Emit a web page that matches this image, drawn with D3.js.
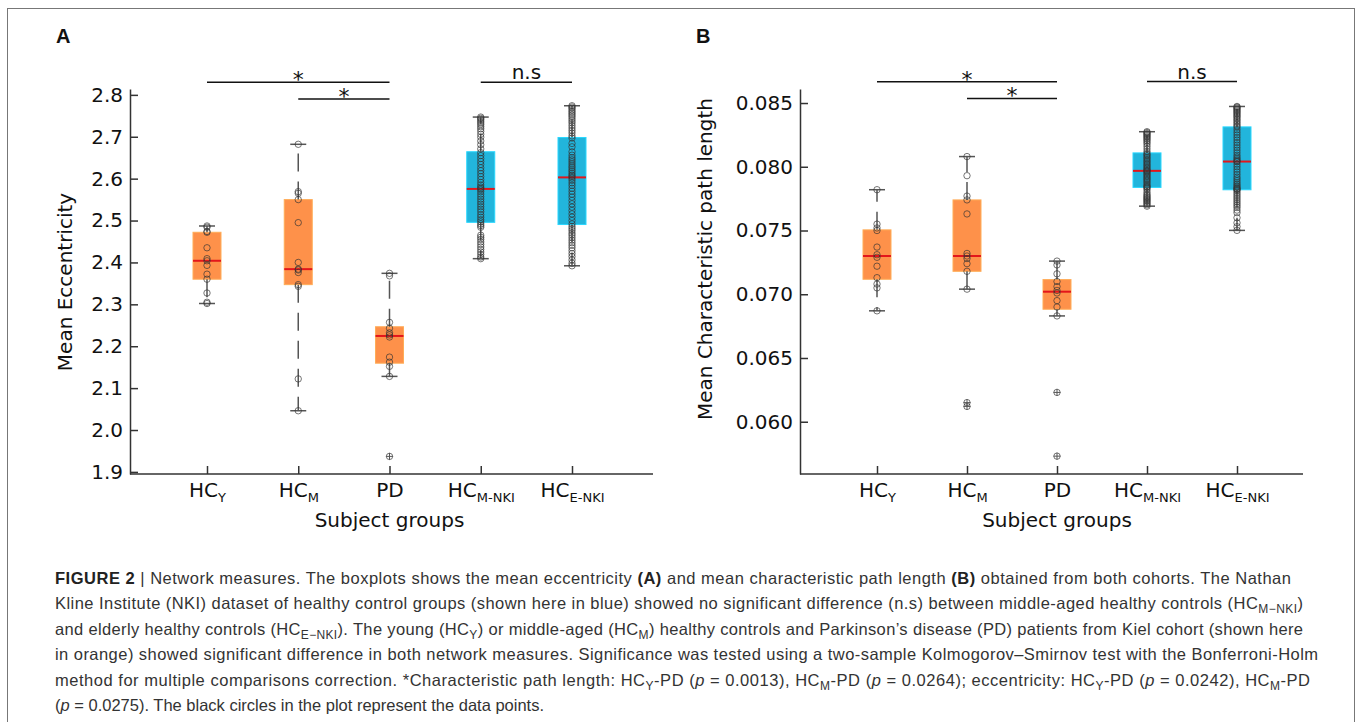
<!DOCTYPE html>
<html>
<head>
    <title>Figure 2</title>
    <meta charset="utf-8" />
    <script type="text/javascript" src="https://cdn.jsdelivr.net/npm/d3@7"></script>
    <style>
        body { margin: 0; background: #fff; }
        svg text { font-family: "DejaVu Sans", sans-serif; fill: #111; }
        .axis path, .axis line { stroke: #333; stroke-width: 1.5; }
        .axis text { font-size: 20px; font-family: "DejaVu Sans", sans-serif; fill: #111; }
        .caption text, .caption tspan { font-family: "Liberation Sans", Arial, sans-serif; }
    </style>
</head>
<body>
    <script type="text/javascript">

        // groups on the x axis
        var groups = ["HCY", "HCM", "PD", "HCMNKI", "HCENKI"];
        var groupMain = ["HC", "HC", "PD", "HC", "HC"];
        var groupSub = ["Y", "M", "", "M-NKI", "E-NKI"];
        var groupCohort = ["kiel", "kiel", "kiel", "nki", "nki"];

        // A: mean eccentricity, one array per group
        var eccHCY = [2.487, 2.484, 2.474, 2.472, 2.435, 2.409, 2.404, 2.393, 2.372, 2.360, 2.327, 2.305, 2.302];
        var eccHCM = [2.682, 2.569, 2.565, 2.550, 2.495, 2.400, 2.384, 2.382, 2.376, 2.347, 2.343, 2.122, 2.046];
        var eccPD = [2.374, 2.368, 2.257, 2.243, 2.232, 2.227, 2.222, 2.174, 2.162, 2.152, 2.128, 1.937];
        var eccHCMNKI = [2.747, 2.744, 2.741, 2.737, 2.733, 2.729, 2.724, 2.719, 2.713, 2.706, 2.699, 2.690, 2.681, 2.671,
            2.662, 2.655, 2.648, 2.641, 2.634, 2.626, 2.619, 2.612, 2.605, 2.598, 2.591, 2.585, 2.580, 2.577,
            2.574, 2.569, 2.563, 2.557, 2.551, 2.545, 2.539, 2.533, 2.527, 2.521, 2.514, 2.508, 2.502, 2.497,
            2.492, 2.488, 2.484, 2.465, 2.460, 2.455, 2.449, 2.443, 2.437, 2.431, 2.425, 2.419, 2.413, 2.409];
        var eccHCENKI = [2.774, 2.771, 2.768, 2.764, 2.760, 2.756, 2.752, 2.748, 2.743, 2.738, 2.733, 2.727, 2.721, 2.715, 2.709, 2.702,
            2.697, 2.684, 2.676, 2.664, 2.656, 2.650, 2.645, 2.640, 2.635, 2.630, 2.626, 2.621, 2.617, 2.612, 2.608, 2.605,
            2.601, 2.596, 2.590, 2.584, 2.577, 2.570, 2.563, 2.556, 2.548, 2.540, 2.532, 2.524, 2.516, 2.508, 2.500, 2.492,
            2.486, 2.481, 2.476, 2.470, 2.465, 2.459, 2.453, 2.447, 2.441, 2.435, 2.428, 2.421, 2.414, 2.406, 2.398, 2.392];

        // B: mean characteristic path length
        var cplHCY = [0.0782, 0.0755, 0.0752, 0.0750, 0.0737, 0.0731, 0.0729, 0.0722, 0.0713, 0.0708, 0.0705, 0.0687];
        var cplHCM = [0.0808, 0.0793, 0.0777, 0.0774, 0.0763, 0.0732, 0.0730, 0.0728, 0.0724, 0.0718, 0.0704, 0.0615, 0.0612];
        var cplPD = [0.0726, 0.0723, 0.0716, 0.0710, 0.0706, 0.0703, 0.0701, 0.0695, 0.0690, 0.0683, 0.0623, 0.0573];
        var cplHCMNKI = [0.08275, 0.08268, 0.08260, 0.08252, 0.08243, 0.08234, 0.08225, 0.08215, 0.08204, 0.08192, 0.08178, 0.08160, 0.08140, 0.08120,
            0.08105, 0.08095, 0.08085, 0.08074, 0.08063, 0.08052, 0.08041, 0.08030, 0.08019, 0.08008, 0.07998, 0.07988, 0.07978, 0.07970,
            0.07966, 0.07958, 0.07948, 0.07938, 0.07928, 0.07918, 0.07908, 0.07898, 0.07888, 0.07876, 0.07864, 0.07853, 0.07844, 0.07840,
            0.07832, 0.07818, 0.07800, 0.07785, 0.07775, 0.07765, 0.07757, 0.07748, 0.07740, 0.07731, 0.07722, 0.07712, 0.07702, 0.07691];
        var cplHCENKI = [0.08473, 0.08467, 0.08460, 0.08452, 0.08443, 0.08434, 0.08425, 0.08415, 0.08405, 0.08395, 0.08384, 0.08372, 0.08360, 0.08347, 0.08334, 0.08321,
            0.08310, 0.08290, 0.08270, 0.08250, 0.08230, 0.08210, 0.08190, 0.08170, 0.08150, 0.08130, 0.08110, 0.08090, 0.08075, 0.08062, 0.08051, 0.08043,
            0.08039, 0.08020, 0.08000, 0.07980, 0.07960, 0.07940, 0.07920, 0.07905, 0.07890, 0.07875, 0.07862, 0.07850, 0.07840, 0.07832, 0.07826, 0.07821,
            0.07815, 0.07800, 0.07785, 0.07770, 0.07755, 0.07740, 0.07725, 0.07710, 0.07695, 0.07680, 0.07660, 0.07640, 0.07600, 0.07560, 0.07530, 0.07501];

        // y ticks
        var eccTicks = [1.9, 2.0, 2.1, 2.2, 2.3, 2.4, 2.5, 2.6, 2.7, 2.8];
        var cplTicks = [0.060, 0.065, 0.070, 0.075, 0.080, 0.085];

        // significance brackets: [from, to, label, level]
        var eccSig = [["HCY", "PD", "*", 2.830], ["HCM", "PD", "*", 2.790], ["HCMNKI", "HCENKI", "n.s", 2.830]];
        var cplSig = [["HCY", "PD", "*", 0.08667], ["HCM", "PD", "*", 0.08536], ["HCMNKI", "HCENKI", "n.s", 0.08668]];

        var orange = "#fe914a";
        var blue = "#22b5dc";

        var w = 1360;
        var h = 722;

        var svg = d3.select("body")
            .append("svg")
            .attr("width", w)
            .attr("height", h);

        // frame round the figure
        svg.append("rect")
            .attr("x", 7.5).attr("y", 8.5)
            .attr("width", 1347).attr("height", 740)
            .attr("fill", "none")
            .attr("stroke", "#777")
            .attr("stroke-width", 1);

        function boxStats(vals) {
            var s = vals.slice().sort(d3.ascending);
            var q1 = d3.quantileSorted(s, 0.25);
            var med = d3.quantileSorted(s, 0.5);
            var q3 = d3.quantileSorted(s, 0.75);
            var iqr = q3 - q1;
            var inside = s.filter(function (v) { return v >= q1 - 1.5 * iqr && v <= q3 + 1.5 * iqr; });
            var out = s.filter(function (v) { return v < q1 - 1.5 * iqr || v > q3 + 1.5 * iqr; });
            return { q1: q1, med: med, q3: q3, lo: d3.min(inside), hi: d3.max(inside), out: out };
        }

        function drawPanel(p) {
            var x = d3.scalePoint().domain(groups).range(p.xRange);
            var y = d3.scaleLinear().domain(p.yDomain).range([474, 89]);
            var g = svg.append("g");

            // panel letter
            g.append("text")
                .attr("x", p.letterX).attr("y", 43)
                .style("font-family", "'Liberation Sans', Arial, sans-serif")
                .style("font-weight", "bold")
                .style("font-size", "20px")
                .text(p.letter);

            // y axis, ticks pointing inward
            g.append("g")
                .attr("class", "axis")
                .attr("transform", "translate(" + p.axisX + ",0)")
                .call(d3.axisLeft(y).tickValues(p.ticks).tickFormat(d3.format(p.fmt))
                    .tickSize(-8).tickSizeOuter(0).tickPadding(7));

            // x axis
            var xa = g.append("g")
                .attr("class", "axis")
                .attr("transform", "translate(0,474)")
                .call(d3.axisBottom(x).tickSize(-8).tickSizeOuter(0).tickPadding(9));
            xa.select(".domain").remove();
            xa.append("line")
                .attr("x1", p.axisX).attr("x2", p.axisEnd)
                .attr("stroke", "#333").attr("stroke-width", 1.5);
            xa.selectAll(".tick text").each(function (d, i) {
                var t = d3.select(this).text(null);
                t.append("tspan").text(groupMain[i]);
                if (groupSub[i]) {
                    t.append("tspan").attr("dy", 5).style("font-size", "13px").text(groupSub[i]);
                }
            });

            // axis titles
            g.append("text")
                .attr("transform", "translate(" + p.yTitleX + "," + p.yTitleY + ") rotate(-90)")
                .attr("text-anchor", "middle")
                .style("font-size", "20px")
                .text(p.yTitle);
            g.append("text")
                .attr("x", x("PD")).attr("y", 527)
                .attr("text-anchor", "middle")
                .style("font-size", "20px")
                .text("Subject groups");

            // boxes
            p.data.forEach(function (vals, i) {
                var s = boxStats(vals);
                var cx = x(groups[i]);
                var col = groupCohort[i] == "nki" ? blue : orange;
                var bw = 28, cw = 16;
                var bg = g.append("g");

                bg.append("rect")
                    .attr("x", cx - bw / 2).attr("y", y(s.q3))
                    .attr("width", bw).attr("height", y(s.q1) - y(s.q3))
                    .attr("fill", col)
                    .attr("stroke", d3.color(col).brighter(0.5))
                    .attr("stroke-width", 1);

                // whiskers start at the box edge
                [[s.q1, s.lo], [s.q3, s.hi]].forEach(function (wk) {
                    bg.append("line")
                        .attr("x1", cx).attr("x2", cx)
                        .attr("y1", y(wk[0])).attr("y2", y(wk[1]))
                        .attr("stroke", "#555").attr("stroke-width", 1.5)
                        .attr("stroke-dasharray", "18,10");
                    bg.append("line")
                        .attr("x1", cx - cw / 2).attr("x2", cx + cw / 2)
                        .attr("y1", y(wk[1])).attr("y2", y(wk[1]))
                        .attr("stroke", "#555").attr("stroke-width", 1.5);
                });

                bg.append("line")
                    .attr("x1", cx - bw / 2).attr("x2", cx + bw / 2)
                    .attr("y1", y(s.med)).attr("y2", y(s.med))
                    .attr("stroke", "#e3161b").attr("stroke-width", 2);

                // data points
                bg.selectAll("circle")
                    .data(vals)
                    .enter()
                    .append("circle")
                    .attr("cx", cx)
                    .attr("cy", function (d) { return y(d); })
                    .attr("r", 3.2)
                    .attr("fill", "none")
                    .attr("stroke", "#333")
                    .attr("stroke-opacity", 0.75)
                    .attr("stroke-width", 0.9);

                // fliers as plus marks
                s.out.forEach(function (v) {
                    bg.append("path")
                        .attr("d", "M" + (cx - 3.5) + "," + y(v) + "h7M" + cx + "," + (y(v) - 3.5) + "v7")
                        .attr("stroke", "#555").attr("stroke-width", 1);
                });
            });

            // significance brackets
            p.sig.forEach(function (s) {
                var yy = y(s[3]);
                g.append("line")
                    .attr("x1", x(s[0])).attr("x2", x(s[1]))
                    .attr("y1", yy).attr("y2", yy)
                    .attr("stroke", "#111").attr("stroke-width", 1.5);
                var star = s[2] == "*";
                g.append("text")
                    .attr("x", (x(s[0]) + x(s[1])) / 2)
                    .attr("y", star ? yy + 5 : yy - 3)
                    .attr("text-anchor", "middle")
                    .style("font-size", star ? "22px" : "20px")
                    .text(s[2]);
            });
        }

        drawPanel({
            letter: "A", letterX: 56,
            xRange: [207, 572], axisX: 130, axisEnd: 653,
            yDomain: [1.895, 2.814], ticks: eccTicks, fmt: ".1f",
            yTitle: "Mean Eccentricity", yTitleX: 72, yTitleY: 282,
            data: [eccHCY, eccHCM, eccPD, eccHCMNKI, eccHCENKI],
            sig: eccSig
        });

        drawPanel({
            letter: "B", letterX: 696,
            xRange: [877, 1237], axisX: 800, axisEnd: 1303,
            yDomain: [0.0559, 0.0861], ticks: cplTicks, fmt: ".3f",
            yTitle: "Mean Characteristic path length", yTitleX: 712, yTitleY: 259,
            data: [cplHCY, cplHCM, cplPD, cplHCMNKI, cplHCENKI],
            sig: cplSig
        });

        // caption
        var captionLines = [
            [["FIGURE 2", "b"], [" | Network measures. The boxplots shows the mean eccentricity "], ["(A)", "b"], [" and mean characteristic path length "], ["(B)", "b"], [" obtained from both cohorts. The Nathan"]],
            [["Kline Institute (NKI) dataset of healthy control groups (shown here in blue) showed no significant difference (n.s) between middle-aged healthy controls (HC"], ["M\u2212NKI", "sub"], [")"]],
            [["and elderly healthy controls (HC"], ["E\u2212NKI", "sub"], ["). The young (HC"], ["Y", "sub"], [") or middle-aged (HC"], ["M", "sub"], [") healthy controls and Parkinson\u2019s disease (PD) patients from Kiel cohort (shown here"]],
            [["in orange) showed significant difference in both network measures. Significance was tested using a two-sample Kolmogorov\u2013Smirnov test with the Bonferroni-Holm"]],
            [["method for multiple comparisons correction. *Characteristic path length: HC"], ["Y", "sub"], ["-PD ("], ["p", "i"], [" = 0.0013), HC"], ["M", "sub"], ["-PD ("], ["p", "i"], [" = 0.0264); eccentricity: HC"], ["Y", "sub"], ["-PD ("], ["p", "i"], [" = 0.0242), HC"], ["M", "sub"], ["-PD"]],
            [["("], ["p", "i"], [" = 0.0275). The black circles in the plot represent the data points."]]
        ];
        var captionEnds = [1291, 1303, 1303, 1318, 1310, 0];

        var cap = svg.append("g").attr("class", "caption");
        captionLines.forEach(function (line, li) {
            var t = cap.append("text")
                .attr("x", 55)
                .attr("y", 584 + li * 25.4)
                .style("font-size", "16.5px")
                .style("fill", "#333");
            if (captionEnds[li]) {
                t.attr("textLength", captionEnds[li] - 55).attr("lengthAdjust", "spacing");
            }
            var shifted = false;
            line.forEach(function (seg) {
                var ts = t.append("tspan").text(seg[0]);
                if (seg[1] == "b") ts.style("font-weight", "bold").style("fill", "#222");
                if (seg[1] == "i") ts.style("font-style", "italic");
                if (seg[1] == "sub") {
                    ts.attr("dy", 4).style("font-size", "12px");
                    shifted = true;
                } else if (shifted) {
                    ts.attr("dy", -4);
                    shifted = false;
                }
            });
        });

    </script>
</body>
</html>
